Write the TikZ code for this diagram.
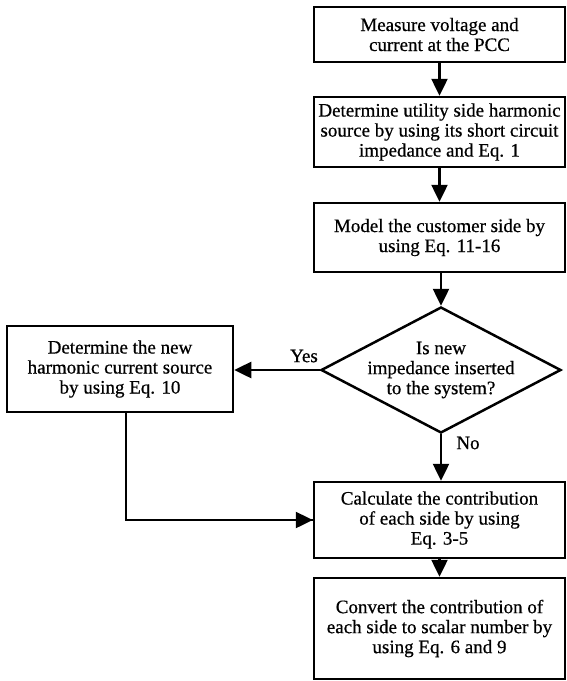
\documentclass[tikz,border=0pt]{standalone}
\usepackage{fontspec}
\setmainfont{Liberation Serif}[FakeBold=0.5]
\newfontfamily\heavy{Liberation Serif}[FakeBold=0.6]
\usetikzlibrary{arrows.meta,shapes.geometric}
\begin{document}
\begin{tikzpicture}[x=1pt,y=-1pt,
  font=\heavy\fontsize{19pt}{20pt}\selectfont,
  proc/.style={draw, line width=2.5pt, minimum width=251pt, inner sep=0pt, align=center},
  dec/.style={draw, diamond, line width=2.5pt, minimum width=240pt, minimum height=126pt, inner sep=0pt},
  arr/.style={line width=2.5pt, -{Triangle[length=17pt,width=16pt]}},
  lnk/.style={line width=2.5pt}]
\useasboundingbox (0,0) rectangle (566,681);
\node[proc, minimum height=55pt] (b1) at (439.5,34.5) {Measure voltage and\\current at the PCC};
\node[proc, minimum height=70pt] (b2) at (439.5,132) {Determine utility side harmonic\\source by using its short circuit\\impedance and Eq. 1};
\node[proc, minimum height=69pt] (b3) at (439.5,237.5) {Model the customer side by\\using Eq. 11-16};
\node[dec] (d) at (441,370) {};
\node[align=center] (dt) at (d.center) {Is new\\impedance inserted\\to the system?};
\node[proc, minimum width=226pt, minimum height=86pt] (lb) at (120,369) {Determine the new\\harmonic current source\\by using Eq. 10};
\node[proc, minimum height=76pt] (b4) at (439.5,520) {Calculate the contribution\\of each side by using\\Eq. 3-5};
\node[proc, minimum height=101pt] (b5) at (439.5,628.5) {Convert the contribution of\\each side to scalar number by\\using Eq. 6 and 9};
\node (yes) at (304,356) {Yes};
\node (no) at (468,443) {No};
\coordinate (lbout) at (126,412);
\draw[arr] (b1) -- (b2);
\draw[arr] (b2) -- (b3);
\draw[arr] (b3.south) -- (b3.south -| d.north) -- (d.north);
\draw[arr] (d.west) -- (lb.east |- d.west);
\draw[arr] (d.south) -- (d.south |- b4.north);
\draw[lnk] (lbout) |- (b4.west);
\draw[arr] (lbout |- b4.west) -- (b4.west);
\draw[arr] (b4) -- (b5);
\end{tikzpicture}
\end{document}
